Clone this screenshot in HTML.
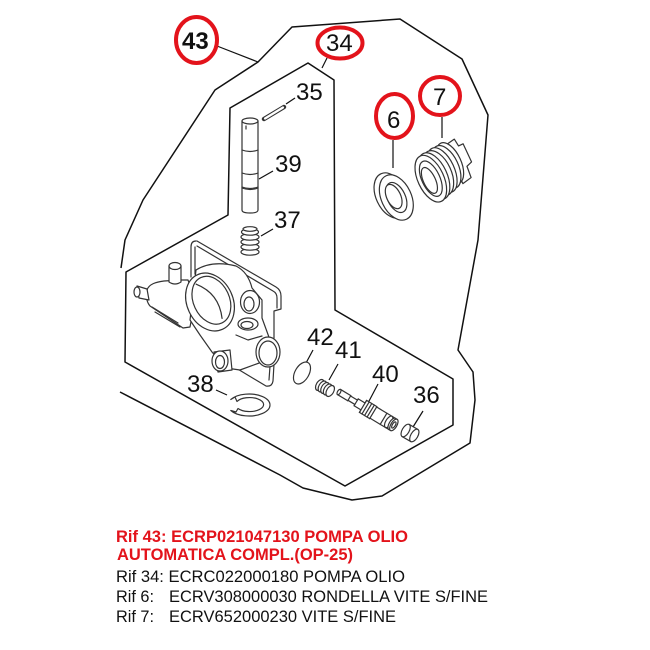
<!DOCTYPE html>
<html><head><meta charset="utf-8"><style>
html,body{margin:0;padding:0;background:#fff;}
svg{display:block;}
</style></head><body>
<svg width="650" height="650" viewBox="0 0 650 650" xmlns="http://www.w3.org/2000/svg">
<rect width="650" height="650" fill="#fff"/>
<!-- outer frame (43) -->
<path d="M121,268 L125,240 L143,200 L215,90 L258,62 L292,27 L400,19 L462,59 L488,115 L478,240 L458,350 L473,372 L475,400 L470,443 L382,496 L352,500 L303,488 L280,475 L120,392" fill="none" stroke="#111" stroke-width="1.5" stroke-linejoin="round"/>
<!-- inner frame (34) -->
<path d="M308,63 L334,80 L335,310 L453,379 L453,425 L345,486 L125,362 L126,272 L228,215 L230,108 Z" fill="none" stroke="#111" stroke-width="1.5" stroke-linejoin="round"/>
<!-- leaders -->
<g stroke="#111" stroke-width="1.2" fill="none">
<line x1="217" y1="46" x2="258" y2="62"/>
<line x1="327" y1="58" x2="322" y2="68"/>
<line x1="393" y1="140" x2="393" y2="168"/>
<line x1="442" y1="117" x2="442" y2="138"/>
<line x1="295" y1="98" x2="286" y2="104"/>
<line x1="273" y1="171" x2="259" y2="179"/>
<line x1="273" y1="229" x2="261" y2="236"/>
<line x1="313" y1="350" x2="306" y2="363"/>
<line x1="338" y1="364" x2="329" y2="380"/>
<line x1="378" y1="384" x2="368" y2="403"/>
<line x1="423" y1="411" x2="413" y2="427"/>
<line x1="216" y1="390" x2="227" y2="395"/>
</g>
<!-- red circles -->
<g fill="none" stroke="#e3131b" stroke-width="4">
<ellipse cx="196.5" cy="40" rx="20.5" ry="23"/>
<ellipse cx="340" cy="43" rx="22.5" ry="15.5"/>
<ellipse cx="394.5" cy="116" rx="18.5" ry="22"/>
<ellipse cx="440" cy="96" rx="20" ry="19"/>
</g>
<!-- number labels -->
<g font-family="Liberation Sans, Arial, sans-serif" font-size="24" fill="#111">
<text x="182" y="49" font-weight="bold">43</text>
<text x="326" y="51">34</text>
<text x="387" y="128">6</text>
<text x="433" y="105">7</text>
<text x="296" y="100">35</text>
<text x="275" y="172">39</text>
<text x="274" y="228">37</text>
<text x="307" y="345">42</text>
<text x="335" y="358">41</text>
<text x="372" y="382">40</text>
<text x="413" y="403">36</text>
<text x="187" y="392">38</text>
</g>
<!-- parts -->
<g fill="#fff" stroke="#333" stroke-width="1.2" stroke-linejoin="round" stroke-linecap="round">
<!-- pin 35 -->
<line x1="264" y1="119" x2="284" y2="107" stroke-width="4.5" stroke="#333"/>
<line x1="265" y1="118.5" x2="283" y2="107.5" stroke-width="2.2" stroke="#fff"/>
<!-- shaft 39 -->
<path d="M242,121 L242,210 Q242,213 250,213 Q258,213 258,210 L258,121 Z"/>
<ellipse cx="250" cy="121" rx="8" ry="3"/>
<path d="M242,150 Q250,153 258,150" fill="none"/>
<path d="M242,173 Q250,176 258,173" fill="none"/>
<path d="M242,188 Q250,191 258,188" fill="none"/>
<path d="M242,187 Q250,190 258,187" fill="none"/>
<line x1="246" y1="126" x2="246" y2="129"/>
<!-- spring 37 -->
<ellipse cx="250" cy="252" rx="9" ry="3.2"/>
<ellipse cx="250" cy="247" rx="9" ry="3.2"/>
<ellipse cx="250" cy="242" rx="9" ry="3.2"/>
<ellipse cx="250" cy="237" rx="9" ry="3.2"/>
<ellipse cx="250" cy="232" rx="8.5" ry="3.2"/>
<ellipse cx="250" cy="229" rx="7" ry="2.3"/>
<!-- washer 6 -->
<g transform="rotate(-25 395 197)">
<ellipse cx="392" cy="194" rx="15" ry="24"/>
<ellipse cx="396" cy="198" rx="15" ry="24"/>
<ellipse cx="396" cy="198" rx="9" ry="16"/>
<ellipse cx="394" cy="196" rx="7" ry="13"/>
</g>
<!-- screw 7 -->
<g transform="rotate(-25 440 170)">
<path d="M455,150 L466,148 L467,156 L472,156 L472,176 L466,178 L465,190 L455,192 Z"/>
<ellipse cx="452" cy="168" rx="11" ry="22"/>
<ellipse cx="447" cy="170" rx="12" ry="23"/>
<ellipse cx="442" cy="171" rx="12" ry="24"/>
<ellipse cx="437" cy="172" rx="13" ry="24"/>
<ellipse cx="432" cy="173" rx="13" ry="25"/>
<ellipse cx="428" cy="174" rx="13" ry="25"/>
<ellipse cx="428" cy="174" rx="9" ry="19"/>
<ellipse cx="426" cy="175" rx="6" ry="14"/>
</g>
<!-- pump body: plate -->
<path d="M196,241 Q191,241 191,247 L191,277 L205,290 L274,336 L274,366 L273,381 Q272,387 266,386 L240,372 L230,350 L205,330 L190,320 Z" stroke="none"/>
<path d="M197,241 L276,287 Q281,290 281,296 L281,309 L274,311 L274,338" fill="none"/>
<path d="M197,246 L273,291 Q277,293 277,298 L277,308" fill="none"/>
<path d="M196,241 Q191,241 191,247 L191,277" fill="none"/>
<path d="M195,247 L195,274" fill="none"/>
<path d="M274,364 L273,381 Q272,387 266,386 L236,368" fill="none"/>
<path d="M270,366 L269,380" fill="none"/>
<!-- body left -->
<path d="M147,290 C149,284 156,282 164,281 L181,280 L188,280 L195,300 L190,327 L183,328 L150,306 Q145,300 147,290 Z"/>
<path d="M152,307 L178,323" fill="none"/>
<path d="M155,312 L180,327" fill="none"/>
<!-- left nozzle -->
<path d="M137,286 L147,289 L149,300 L139,298 Z"/>
<ellipse cx="137" cy="292" rx="3" ry="5"/>
<!-- top nozzle -->
<path d="M169,266 L169,282 Q175,286 181,282 L181,266 Z"/>
<ellipse cx="175" cy="266" rx="6" ry="3.5"/>
<!-- body main behind ring -->
<path d="M196,270 Q212,260 236,266 Q248,272 252,288 L262,300 L262,318 L270,340 L262,362 L240,370 L226,368 L212,352 L200,335 L190,320 Z"/>
<path d="M236,335 L248,340 L262,336" fill="none"/>
<!-- right boss -->
<ellipse cx="250" cy="302" rx="9.5" ry="11.5"/>
<ellipse cx="249" cy="304" rx="5" ry="7"/>
<!-- middle hole -->
<ellipse cx="248" cy="324" rx="10" ry="6"/>
<ellipse cx="247" cy="325" rx="6" ry="3.5"/>
<!-- lower boss -->
<path d="M214,352 L230,350 L232,370 L218,372 Z"/>
<ellipse cx="220" cy="361" rx="8" ry="10"/>
<ellipse cx="220" cy="362" rx="4.5" ry="6.5"/>
<!-- outlet -->
<ellipse cx="268" cy="352" rx="12" ry="15"/>
<ellipse cx="268" cy="353" rx="9" ry="12"/>
<!-- big ring -->
<g transform="rotate(-25 210 302)">
<ellipse cx="210" cy="302" rx="23" ry="30"/>
<ellipse cx="212" cy="301" rx="18" ry="25"/>
<path d="M205,280 Q222,298 214,322" fill="none"/>
</g>
<!-- clip 38 -->
<path d="M230.8,399.5 A21 11 0 1 1 230.8,410.5 L236,412 L238,408.5 A14 7 0 1 0 237,401.5 L235,397 Z"/>
<!-- o-ring 42 -->
<ellipse cx="302" cy="373" rx="7" ry="12" transform="rotate(30 302 373)"/>
<!-- spring 41 -->
<g transform="rotate(30 325 388)">
<ellipse cx="319" cy="388" rx="3.5" ry="6"/>
<ellipse cx="322" cy="388" rx="3.5" ry="6"/>
<ellipse cx="325" cy="388" rx="3.5" ry="6"/>
<ellipse cx="328" cy="388" rx="3.5" ry="6"/>
<ellipse cx="331" cy="388" rx="3.5" ry="6"/>
</g>
<!-- shaft 40 -->
<g transform="translate(339 392) rotate(31)">
<path d="M0,-3 L12,-3 L12,-2.5 L20,-2.5 L20,-4 L28,-4 L28,-7 L40,-7 L40,-6.5 L64,-6.5 L64,6.5 L40,6.5 L40,7 L28,7 L28,4 L20,4 L20,2.5 L12,2.5 L12,3 L0,3 Z"/>
<ellipse cx="0" cy="0" rx="1.5" ry="3"/>
<line x1="12" y1="-3" x2="12" y2="3"/>
<line x1="20" y1="-4" x2="20" y2="4"/>
<line x1="28" y1="-7" x2="28" y2="7"/>
<line x1="40" y1="-7" x2="40" y2="7"/>
<line x1="31" y1="-7" x2="31" y2="7"/>
<line x1="34" y1="-7" x2="34" y2="7"/>
<line x1="37" y1="-7" x2="37" y2="7"/>
<line x1="52" y1="-6.5" x2="52" y2="6.5"/>
<ellipse cx="58" cy="0" rx="3" ry="6.5"/>
<ellipse cx="62" cy="0" rx="3" ry="6.5"/>
<ellipse cx="64" cy="0" rx="3" ry="6.5"/>
<ellipse cx="64" cy="0" rx="1.5" ry="3.5"/>
</g>
<!-- cap 36 -->
<g transform="translate(410 433) rotate(-60)">
<path d="M-7,-5 L7,-5 L7,5 L-7,5 Z"/>
<ellipse cx="0" cy="5" rx="7" ry="3.5"/>
<ellipse cx="0" cy="-5" rx="7" ry="3.5"/>
</g>
</g>
<!-- bottom text -->
<g font-family="Liberation Sans, Arial, sans-serif" font-size="16.3">
<text x="116" y="542" font-weight="bold" fill="#e3131b" textLength="292" lengthAdjust="spacingAndGlyphs">Rif 43: ECRP021047130 POMPA OLIO</text>
<text x="117" y="560" font-weight="bold" fill="#e3131b" textLength="236" lengthAdjust="spacingAndGlyphs">AUTOMATICA COMPL.(OP-25)</text>
<text x="116" y="582" fill="#111" textLength="289" lengthAdjust="spacingAndGlyphs">Rif 34: ECRC022000180 POMPA OLIO</text>
<text x="116" y="602" fill="#111">Rif 6:</text>
<text x="169" y="602" fill="#111" textLength="319" lengthAdjust="spacingAndGlyphs">ECRV308000030 RONDELLA VITE S/FINE</text>
<text x="116" y="622" fill="#111">Rif 7:</text>
<text x="169" y="622" fill="#111" textLength="227" lengthAdjust="spacingAndGlyphs">ECRV652000230 VITE S/FINE</text>
</g>
</svg>
</body></html>
